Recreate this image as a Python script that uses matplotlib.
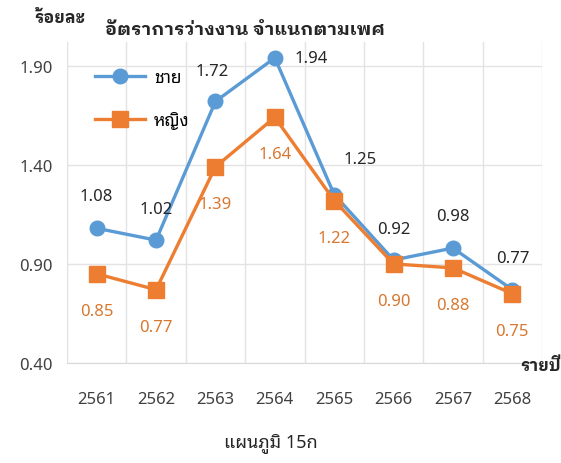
import matplotlib
matplotlib.use('Agg')
from matplotlib import pyplot as plt
from matplotlib.ticker import MultipleLocator

plt.rcParams['font.family'] = ['Noto Sans Thai Looped', 'Noto Sans Thai', 'DejaVu Sans']
BOLD_FONT = ['IBM Plex Sans Thai Looped', 'Noto Sans Thai', 'DejaVu Sans']

years = ['2561', '2562', '2563', '2564', '2565', '2566', '2567', '2568']
male = [1.08, 1.02, 1.72, 1.94, 1.25, 0.92, 0.98, 0.77]
female = [0.85, 0.77, 1.39, 1.64, 1.22, 0.90, 0.88, 0.75]
yticks = [0.40, 0.90, 1.40, 1.90]

BLUE = '#5B9BD5'
ORANGE = '#ED7D31'

fig = plt.figure(figsize=(5.61, 4.64), dpi=100)
ax = fig.add_axes([67/561, 1-364/464, 475/561, 321/464])

xs = list(range(len(years)))
ax.plot(xs, male, color=BLUE, lw=2.4, marker='o', ms=10.5, label='ชาย', zorder=3)
ax.plot(xs, female, color=ORANGE, lw=2.4, marker='s', ms=12, label='หญิง', zorder=4)

# data labels (pixel offsets)
m_off = [(0, 32), (0, 31), (-3, 30), (36, 0), (26, 36), (0, 31), (0, 32), (1, 32)]
f_off = [(0, -37)] * 8
for x, v, (dx, dy) in zip(xs, male, m_off):
    ax.annotate(f'{v:.2f}', (x, v), xytext=(dx, dy), textcoords='offset pixels',
                ha='center', va='center', fontsize=12, color='#262626')
for x, v, (dx, dy) in zip(xs, female, f_off):
    ax.annotate(f'{v:.2f}', (x, v), xytext=(dx, dy), textcoords='offset pixels',
                ha='center', va='center', fontsize=12, color='#D9772F')

ax.set_xlim(-0.5, len(years) - 0.5)
ax.set_ylim(0.4, 2.02)
ax.set_xticks(xs)
ax.set_xticklabels(years)
ax.set_yticks(yticks)
ax.set_yticklabels([f'{t:.2f}' for t in yticks])
ax.xaxis.set_minor_locator(MultipleLocator(1, offset=0.5))
ax.tick_params(which='both', length=0, labelsize=12, colors='#404040')
ax.tick_params(axis='x', pad=20)
ax.tick_params(axis='y', pad=10)
ax.grid(axis='y', which='major', color='#E3E3E3', lw=1)
ax.grid(axis='x', which='minor', color='#E3E3E3', lw=1)
ax.set_axisbelow(True)
for s in ['top', 'right']:
    ax.spines[s].set_visible(False)
ax.spines['left'].set_color('#E3E3E3')
ax.spines['bottom'].set_color('#D9D9D9')

ax.legend(loc='upper left', bbox_to_anchor=(95/561, 1-69/464), bbox_transform=fig.transFigure,
          frameon=False, fontsize=12.5, handlelength=2.9, handletextpad=0.5,
          labelspacing=1.45, borderpad=0, borderaxespad=0)

fig.text(245/561, 1-30/464, 'อัตราการว่างงาน จำแนกตามเพศ', ha='center', va='center',
         fontsize=13.3, fontweight='bold', color='#262626', family=BOLD_FONT)
fig.text(60/561, 1-18/464, 'ร้อยละ', ha='center', va='center', fontsize=12,
         fontweight='bold', color='#262626', family=BOLD_FONT)
fig.text(561/561, 1-366/464, 'รายปี', ha='right', va='center', fontsize=12,
         fontweight='bold', color='#262626', family=BOLD_FONT)
fig.text(271/561, 1-443/464, 'แผนภูมิ 15ก', ha='center', va='center', fontsize=13,
         color='#262626')

fig.savefig('out.png')
